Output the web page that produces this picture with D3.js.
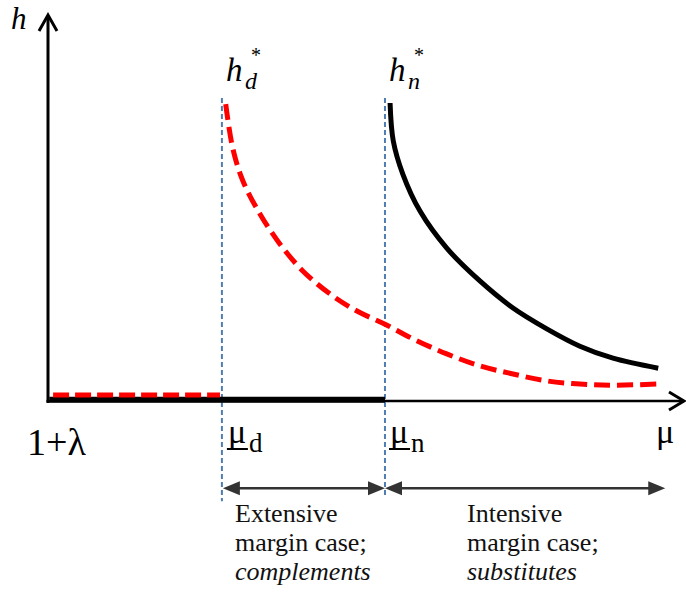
<!DOCTYPE html>
<html><head><meta charset="utf-8">
<script src="https://cdn.jsdelivr.net/npm/d3@7"></script>
<style>body{margin:0;background:#fff}svg{display:block}</style>
</head><body>
<script>
// ---- data (abstract units: mu on x 0..100, h on y 0..100) ----
const muD = 27.3, muN = 52.9;
const redX = [27.9,29.0,30.6,33.3,36.4,40.0,44.3,48.5,52.9,57.3,62.6,67.8,73.0,78.3,83.5,88.7,95.8];
const redY = [76.9,65.5,57.0,48.4,40.7,33.7,27.7,23.3,19.9,16.1,12.2,9.1,7.0,5.2,4.4,4.1,4.4];
const blackX = [53.7,54.2,55.7,58.4,62.6,67.8,73.0,78.3,83.5,88.7,95.8];
const blackY = [77.2,67.4,58.8,49.2,39.6,31.1,24.1,18.7,14.2,11.1,8.5];
const redFlatX = [0.8, 27.0], redFlatY = 1.55;
const blackFlatX = [0.2, muN], blackFlatY = 0.3;
const caseLabels = [["Extensive","margin case;","complements"],["Intensive","margin case;","substitutes"]];

const SERIF = "'Times New Roman', Times, 'Liberation Serif', 'DejaVu Serif', 'Noto Serif', Tinos, FreeSerif, serif";
const W = 686, H = 603;
const x = d3.scaleLinear().domain([0,100]).range([48,685]);
const y = d3.scaleLinear().domain([0,100]).range([401,15]);

const svg = d3.select("body").append("svg").attr("width",W).attr("height",H);
const T = (px,py,size,txt)=>svg.append("text").attr("x",px).attr("y",py).attr("font-size",size)
  .style("font-family",SERIF).text(txt);

// axes
svg.append("line").attr("x1",x(0)).attr("x2",x(0)).attr("y1",y(-0.5)).attr("y2",y(100)+1)
  .attr("stroke","#000").attr("stroke-width",3);
svg.append("line").attr("x1",x(0)-1.5).attr("x2",x(100)-1).attr("y1",y(0)).attr("y2",y(0))
  .attr("stroke","#000").attr("stroke-width",2.6);
svg.append("path").attr("d",`M${x(0)-9},${y(100)+16}L${x(0)},${y(100)}L${x(0)+9},${y(100)+16}`)
  .attr("fill","none").attr("stroke","#000").attr("stroke-width",3);
svg.append("path").attr("d",`M${x(100)-16},${y(0)-9}L${x(100)-1},${y(0)}L${x(100)-16},${y(0)+9}`)
  .attr("fill","none").attr("stroke","#000").attr("stroke-width",3);

// vertical blue dashed lines
[muD, muN].forEach((m,i)=>{
  svg.append("line").attr("x1",x(m)).attr("x2",x(m)).attr("y1",y(78.5)).attr("y2",y(i?-25:-26))
    .attr("stroke","#4f7db3").attr("stroke-width",2).attr("stroke-dasharray","5,3");
});

svg.append("line").attr("x1",x(blackFlatX[0])).attr("x2",x(blackFlatX[1]))
  .attr("y1",y(blackFlatY)).attr("y2",y(blackFlatY)).attr("stroke","#000").attr("stroke-width",6);
svg.append("line").attr("x1",x(redFlatX[0])).attr("x2",x(redFlatX[1]))
  .attr("y1",y(redFlatY)).attr("y2",y(redFlatY)).attr("stroke","#f00").attr("stroke-width",5)
  .attr("stroke-dasharray","16,6");

const line = d3.line().x(d=>x(d[0])).y(d=>y(d[1])).curve(d3.curveCatmullRom.alpha(0.5));
svg.append("path").attr("d",line(redX.map((v,i)=>[v,redY[i]])))
  .attr("fill","none").attr("stroke","#f00").attr("stroke-width",5).attr("stroke-dasharray","16,7");
svg.append("path").attr("d",line(blackX.map((v,i)=>[v,blackY[i]])))
  .attr("fill","none").attr("stroke","#000").attr("stroke-width",5);

// labels
T(11,29,31,"h").attr("font-style","italic");
function hstar(px,sub){
  T(px,81,33,"h").attr("font-style","italic");
  T(px+25,62,20,"*");
  T(px+19,89,24,sub).attr("font-style","italic");
}
hstar(226,"d"); hstar(389,"n");

T(27,455,38,"1+λ");
function mulabel(px,sub){
  T(px,443,34,"μ");
  svg.append("line").attr("x1",px-1).attr("x2",px+20).attr("y1",449).attr("y2",449).attr("stroke","#000").attr("stroke-width",2);
  T(px+21,452,27,sub);
}
mulabel(x(muD)+6,"d"); mulabel(x(muN)+5,"n");
T(656,443,34,"μ");

// double arrows
const ay = y(-22.6);
function arrowSeg(a,b){
  svg.append("line").attr("x1",a+14).attr("x2",b-14).attr("y1",ay).attr("y2",ay).attr("stroke","#333").attr("stroke-width",2.5);
  svg.append("path").attr("d",`M${a},${ay}L${a+17},${ay-7}L${a+17},${ay+7}Z`).attr("fill","#333");
  svg.append("path").attr("d",`M${b},${ay}L${b-17},${ay-7}L${b-17},${ay+7}Z`).attr("fill","#333");
}
arrowSeg(x(muD)+1, x(muN)); arrowSeg(x(muN), x(96.9));

[[235,caseLabels[0]],[467,caseLabels[1]]].forEach(([px,lines])=>{
  lines.forEach((t,i)=>{
    T(px,522+i*29,26,t).attr("font-style",i===2?"italic":"normal").attr("fill","#111");
  });
});
</script>
</body></html>
